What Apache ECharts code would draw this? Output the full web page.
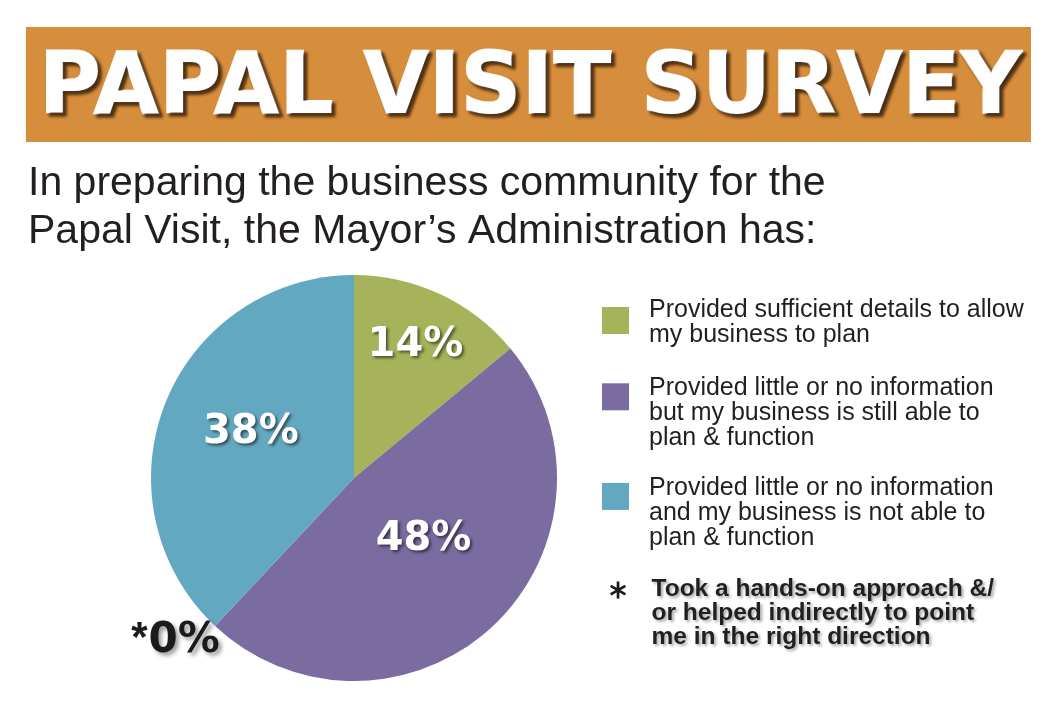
<!DOCTYPE html>
<html><head><meta charset="utf-8">
<script src="https://cdn.jsdelivr.net/npm/echarts@6/dist/echarts.min.js"></script>
<style>html,body{margin:0;padding:0;background:#fff}#c{width:1061px;height:706px}</style>
</head><body><div id="c"></div>
<script>
// ---- data ----
const titleText = 'PAPAL VISIT SURVEY';
const subtitleText = 'In preparing the business community for the\nPapal Visit, the Mayor\u2019s Administration has:';
const categories = [
  'Provided sufficient details to allow\nmy business to plan',
  'Provided little or no information\nbut my business is still able to\nplan & function',
  'Took a hands-on approach &/\nor helped indirectly to point\nme in the right direction',
  'Provided little or no information\nand my business is not able to\nplan & function'
];
const values = [14, 48, 0, 38];
const legendOrder = [0, 1, 3, 2];

// ---- styles ----
const colors = ['#A6B35A', '#7A6BA0', '#1d1a1b', '#63A8C1'];
const labelNudge = [[17, -38], [-2, -15], [-107, 87], [-6, -7]];
const legendTops = [295, 358.8, 458.4, 553.6];
const legendGap = [4, 32, 33, 45.8];
const asteriskPath = 'path://M-1.6,-10L1.6,-10L1.6,10L-1.6,10Z' +
  'M-9.46,-3.614L-7.86,-6.386L9.46,3.614L7.86,6.386Z' +
  'M7.86,-6.386L9.46,-3.614L-7.86,6.386L-9.46,3.614Z';

const chart = echarts.init(document.getElementById('c'), null, {renderer: 'canvas'});

const legends = legendOrder.map((idx, k) => {
  const star = values[idx] === 0;
  const lh = star ? 24 : 25;
  return {
    data: [{name: categories[idx], icon: star ? asteriskPath : 'rect'}],
    orient: 'vertical',
    left: star ? 610 : 602,
    top: legendTops[k],
    padding: 0,
    itemWidth: star ? 17 : 27,
    itemHeight: star ? 17 : 27,
    selectedMode: false,
    formatter: name => '{g|\u00a0}\n' + name.split('\n').map(l => '{t|' + l + '}').join('\n'),
    textStyle: {
      padding: [0, 0, 0, star ? 20 : 15],
      rich: {
        g: {fontSize: 1, lineHeight: legendGap[k]},
        t: star ? {
          fontFamily: 'Liberation Sans', fontWeight: 'bold', fontSize: 24.5, lineHeight: lh,
          color: '#231f20',
          textShadowColor: 'rgba(0,0,0,0.35)', textShadowBlur: 3, textShadowOffsetX: 2, textShadowOffsetY: 2
        } : {
          fontFamily: 'Liberation Sans', fontSize: 25, lineHeight: lh, color: '#231f20'
        }
      }
    }
  };
});

chart.setOption({
  animation: false,
  backgroundColor: '#fff',
  graphic: [{
    type: 'rect', left: 26, top: 27, z: 0,
    shape: {width: 1005, height: 115},
    style: {fill: '#D68D3C'}
  }],
  title: [{
    text: titleText,
    left: 'center', top: 48, padding: 0,
    textStyle: {
      fontFamily: 'DejaVu Sans', fontWeight: 'bold', fontSize: 85, lineHeight: 85, color: '#fff',
      textBorderColor: '#fff', textBorderWidth: 1.5,
      textShadowColor: 'rgba(55,32,10,0.9)', textShadowBlur: 3, textShadowOffsetX: 3, textShadowOffsetY: 3
    }
  }, {
    text: subtitleText,
    left: 28, top: 160, padding: 0,
    textStyle: {fontFamily: 'Liberation Sans', fontWeight: 'normal', fontSize: 41, lineHeight: 48, color: '#231f20'}
  }],
  legend: legends,
  series: [{
    type: 'pie',
    center: [354, 478],
    radius: 203,
    startAngle: 90,
    clockwise: true,
    avoidLabelOverlap: false,
    silent: true,
    emphasis: {disabled: true},
    itemStyle: {borderWidth: 0},
    data: values.map((v, i) => ({name: categories[i], value: v, itemStyle: {color: colors[i]}})),
    label: {
      show: true,
      position: 'inside',
      formatter: p => p.value === 0 ? '{s|*}{z|' + p.value + '%}' : '{w|' + p.value + '%}',
      rich: {
        w: {fontFamily: 'DejaVu Sans', fontWeight: 'bold', fontSize: 40, color: '#fff',
            textShadowColor: 'rgba(0,0,0,0.55)', textShadowBlur: 3, textShadowOffsetX: 2, textShadowOffsetY: 2},
        s: {fontFamily: 'Liberation Sans', fontWeight: 'bold', fontSize: 42, color: '#1d1a1b', verticalAlign: 'top', lineHeight: 14, padding: [0, 1, 0, 0]},
        z: {fontFamily: 'DejaVu Sans', fontWeight: 'bold', fontSize: 42, color: '#1d1a1b', lineHeight: 44,
            textShadowColor: 'rgba(0,0,0,0.4)', textShadowBlur: 4, textShadowOffsetX: 3, textShadowOffsetY: 3}
      }
    },
    labelLine: {show: false},
    labelLayout: function (params) {
      const r = params.labelRect;
      const n = labelNudge[params.dataIndex];
      return {
        x: r.x + r.width / 2 + n[0],
        y: r.y + r.height / 2 + n[1],
        align: 'center',
        verticalAlign: 'middle'
      };
    }
  }]
});
</script>
</body></html>
